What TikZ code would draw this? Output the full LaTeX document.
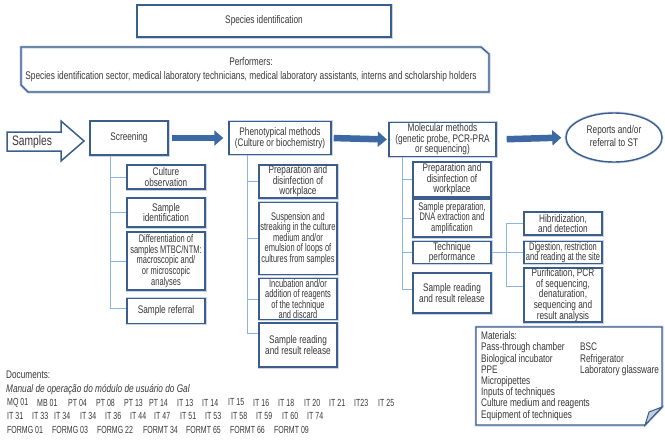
\documentclass[tikz,border=0pt]{standalone}
\usepackage{fontspec}
\setmainfont{Liberation Sans}[FakeStretch=0.75]
\newfontfamily\narrowfont{Liberation Sans}[FakeStretch=0.68]
\usetikzlibrary{arrows.meta,shapes.geometric}
\definecolor{boxblue}{HTML}{3B5E8C}
\definecolor{halo}{HTML}{C9D5E6}
\definecolor{treeblue}{HTML}{8EB4E3}
\definecolor{arrblue}{HTML}{3C68A3}
\definecolor{txt}{HTML}{383838}
\definecolor{foldfill}{HTML}{C3CDDB}
\tikzset{
  box/.style={draw=boxblue, line width=1.4pt, fill=white, align=center, inner sep=0.5pt,
    preaction={draw=halo, line width=3pt},
    text=txt, font=\fontsize{11}{10.6}\selectfont},
  narrow/.style={font=\fontsize{11}{10.6}\selectfont\narrowfont},
  tree/.style={draw=treeblue, line width=1pt},
  bigarr/.style={draw=arrblue, line width=6.5pt, -{Triangle[width=15pt,length=9pt]}},
  plain/.style={text=txt, inner sep=0pt, font=\fontsize{11}{10.8}\selectfont},
  doctok/.style={text=txt, inner sep=0pt, font=\fontsize{10.3}{11}\narrowfont},
}
\begin{document}
\begin{tikzpicture}[x=1pt,y=-1pt]
\useasboundingbox (0,0) rectangle (665,440);
% title
\node[box, minimum width=254, minimum height=32] (species) at (264,21) {Species identification};
% performers
\draw[draw=halo, line width=3pt] (21,47) -- (481,47) -- (489,54) -- (489,92) -- (28,92) -- (21,85) -- cycle;
\draw[draw=boxblue, line width=1.2pt] (21,47) -- (481,47) -- (489,54) -- (489,92) -- (28,92) -- (21,85) -- cycle;
\node[plain, align=center, font=\fontsize{11.1}{14}\selectfont] (perf) at (251,70) {Performers:\\Species identification sector, medical laboratory technicians, medical laboratory assistants, interns and scholarship holders};
% samples arrow
\draw[draw=boxblue, line width=1.5pt, fill=white] (7,132) -- (61,132) -- (61,121) -- (84,141) -- (61,161) -- (61,151) -- (7,151) -- cycle;
\node[plain, font=\fontsize{13.7}{15}\selectfont] (samples) at (32,141.5) {Samples};
% main boxes
\node[box, minimum width=78, minimum height=34] (screen) at (129,138) {Screening};
\node[box, minimum width=102, minimum height=33] (pheno) at (280,138) {Phenotypical methods\\(Culture or biochemistry)};
\node[box, minimum width=107, minimum height=34] (mol) at (442.5,139.5) {Molecular methods\\(genetic probe, PCR-PRA\\or sequencing)};
\node[box, ellipse, minimum width=96, minimum height=49] (rep) at (614,137.5) {\raisebox{3.5pt}{\begin{tabular}{@{}c@{}}Reports and/or\\[2pt]referral to ST\end{tabular}}};
\draw[bigarr, shorten <=3pt, shorten >=5pt] (screen.east) -- (pheno.west);
\draw[bigarr, shorten <=2pt, shorten >=1.5pt] (pheno.east) -- (mol.west);
\draw[bigarr, shorten <=10pt, shorten >=4pt] (mol.east) -- (rep.west);
% screening children
\node[box, minimum width=78, minimum height=24] (c1) at (166,177) {Culture\\observation};
\node[box, minimum width=78, minimum height=29] (c2) at (166,212.5) {Sample\\identification};
\node[box, narrow, minimum width=78, minimum height=58] (c3) at (166,261) {Differentiation of\\samples MTBC/NTM:\\macroscopic and/\\or microscopic\\analyses};
\node[box, minimum width=78, minimum height=25] (c4) at (166,311) {Sample referral};
\coordinate (sv) at ([xshift=21pt]screen.south west);
\draw[tree] (sv) |- ([yshift=3pt]c4.west);
\foreach \n in {c1,c2,c3} \draw[tree] (sv |- \n.west) -- (\n.west);
% phenotypical children
\node[box, minimum width=78, minimum height=33] (p1) at (298,181.5) {Preparation and\\disinfection of\\workplace};
\node[box, narrow, minimum width=78, minimum height=72] (p2) at (298,238.5) {Suspension and\\streaking in the culture\\medium and/or\\emulsion of loops of\\cultures from samples};
\node[box, narrow, minimum width=78, minimum height=39] (p3) at (298,299) {Incubation and/or\\addition of reagents\\of the technique\\and discard};
\node[box, minimum width=78, minimum height=44] (p4) at (298,345) {Sample reading\\and result release};
\coordinate (pv) at ([xshift=19pt]pheno.south west);
\draw[tree] (pv) |- ([yshift=12pt]p4.west);
\foreach \n in {p1,p2,p3} \draw[tree] (pv |- \n.west) -- (\n.west);
% molecular children
\node[box, minimum width=78, minimum height=35] (m1) at (452,179.5) {Preparation and\\disinfection of\\workplace};
\node[box, narrow, minimum width=78, minimum height=38] (m2) at (452,218) {Sample preparation,\\DNA extraction and\\amplification};
\node[box, minimum width=78, minimum height=20] (m3) at (452,252.5) {Technique\\performance};
\node[box, minimum width=78, minimum height=40] (m4) at (452,293) {Sample reading\\and result release};
\coordinate (mv) at ([xshift=14pt]mol.south west);
\draw[tree] (mv) |- ([yshift=4pt]m4.west);
\foreach \n in {m1,m2,m3} \draw[tree] (mv |- \n.west) -- (\n.west);
% technique children
\node[box, minimum width=78, minimum height=23] (t1) at (563,223.5) {Hibridization,\\and detection};
\node[box, narrow, minimum width=78, minimum height=22] (t2) at (563,252.5) {Digestion, restriction\\and reading at the site};
\node[box, minimum width=78, minimum height=54] (t3) at (563,295) {Purification, PCR\\of sequencing,\\denaturation,\\sequencing and\\result analysis};
\coordinate (tv) at (506,252.5);
\draw[tree] (m3.east) -- (t2.west);
\draw[tree] (tv |- t1.west) -- (t1.west);
\draw[tree] (tv |- t1.west) |- ([yshift=9pt]t3.west);
% materials
\draw[draw=halo, line width=3pt] (476,327) -- (662,327) -- (662,407) -- (645,425) -- (476,425) -- cycle;
\draw[draw=boxblue, line width=1.4pt, fill=white] (476,327) -- (662,327) -- (662,407) -- (645,425) -- (476,425) -- cycle;
\draw[draw=boxblue, line width=1pt, fill=foldfill] (662,407) -- (649,412) -- (645,425) -- cycle;
\node[plain, anchor=north west] (mat) at (481,331.5) {\renewcommand\arraystretch{1}\begin{tabular}{@{}l@{}}
Materials:\\
\makebox[99pt][l]{Pass-through chamber}BSC\\
\makebox[99pt][l]{Biological incubator}Refrigerator\\
\makebox[99pt][l]{PPE}Laboratory glassware\\
Micropipettes\\
Inputs of techniques\\
Culture medium and reagents\\
Equipment of techniques
\end{tabular}};
% documents
\node[plain, anchor=west] (doc0) at (6,375) {Documents:};
\node[plain, anchor=west] (doc1) at (6,389.5) {\itshape Manual de operação do módulo de usuário do Gal};
\foreach \x/\t [count=\i] in {7/MQ 01,37/MB 01,68/PT 04,96/PT 08,124/PT 13,149/PT 14,177/IT 13,202/IT 14,228/IT 15,253/IT 16,278/IT 18,304/IT 20,329/IT 21,354/IT23,378/IT 25}
  \node[doctok, anchor=west] (da\i) at (\x,402.5) {\t};
\foreach \x/\t [count=\i] in {7/IT 31,32/IT 33,54/IT 34,80/IT 34,105/IT 36,130/IT 44,154/IT 47,180/IT 51,205/IT 53,231/IT 58,256/IT 59,282/IT 60,307/IT 74}
  \node[doctok, anchor=west] (db\i) at (\x,416) {\t};
\foreach \x/\t [count=\i] in {7/FORMG 01,52/FORMG 03,97/FORMG 22,143/FORMT 34,186/FORMT 65,230/FORMT 66,274/FORMT 09}
  \node[doctok, anchor=west] (dc\i) at (\x,429.5) {\t};
\end{tikzpicture}
\end{document}
